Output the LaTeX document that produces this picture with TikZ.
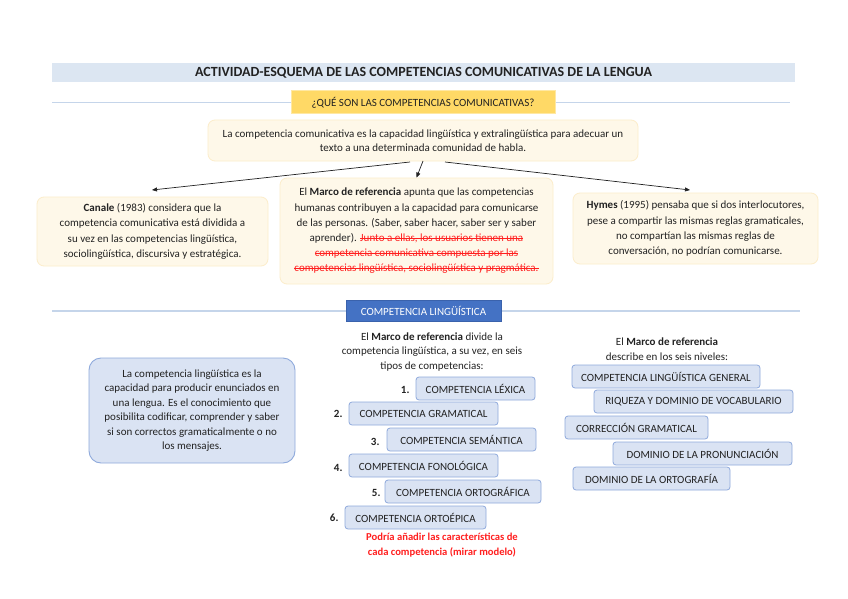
\documentclass[tikz,border=0pt]{standalone}
\usepackage{fontspec}
\setmainfont{Carlito}
\usetikzlibrary{arrows.meta}
\definecolor{titlebg}{HTML}{DCE6F2}
\definecolor{sepline}{HTML}{C5D5EA}
\definecolor{gold}{HTML}{FFD966}
\definecolor{goldedge}{HTML}{FFE8A3}
\definecolor{cream}{HTML}{FEF8E9}
\definecolor{creamedge}{HTML}{FCEDCB}
\definecolor{bluebox}{HTML}{4472C4}
\definecolor{blueedge}{HTML}{3A62AC}
\definecolor{lightblue}{HTML}{DAE3F3}
\definecolor{lightedge}{HTML}{8FAADC}
\definecolor{txt}{HTML}{222222}
\definecolor{redtxt}{HTML}{FF1F1F}
\newlength{\strkw}
\newcommand{\strk}[1]{\settowidth{\strkw}{#1}\textcolor{redtxt}{\rlap{#1}\rule[0.27em]{\strkw}{0.7pt}}}
\tikzset{
  base/.style={font=\fontsize{11}{14.5}\selectfont, text=txt, align=center, inner sep=0pt},
  creambox/.style={base, font=\fontsize{11}{15.2}\selectfont, draw=creamedge, fill=cream, rounded corners=7pt, line width=0.8pt},
  itembox/.style={font=\fontsize{11}{12}\selectfont, text=txt, draw=lightedge, fill=lightblue, rounded corners=3pt, line width=0.8pt, minimum height=23pt, inner sep=0pt},
  numlbl/.style={font=\bfseries\fontsize{11}{12}\selectfont, text=txt},
  arr/.style={-{Triangle[length=5pt,width=4pt]}, line width=0.7pt, draw=txt},
}
\begin{document}
\begin{tikzpicture}[x=1pt,y=-1pt]
\useasboundingbox (0,0) rectangle (848,599);
\fill[white] (0,0) rectangle (848,599);
% title
\node[fill=titlebg, minimum width=743pt, minimum height=19pt, inner sep=0pt, font=\bfseries\fontsize{14}{16}\selectfont, text=txt] (title) at (423.5,72.5) {ACTIVIDAD-ESQUEMA DE LAS COMPETENCIAS COMUNICATIVAS DE LA LENGUA};
% separator 1
\coordinate (s1a) at (52,102.5);
\coordinate (s1b) at (790,102.5);
\draw[sepline, line width=1.2pt] (s1a) -- (s1b);
\node[fill=gold, draw=goldedge, line width=1pt, minimum width=264pt, minimum height=23pt, inner sep=0pt, font=\fontsize{11}{12}\selectfont, text=txt] (q) at (423,102.5) {¿QUÉ SON LAS COMPETENCIAS COMUNICATIVAS?};
% definition
\node[creambox, font=\fontsize{11}{14}\selectfont, minimum width=430pt, minimum height=41pt] (def) at (423,140.5) {La competencia comunicativa es la capacidad lingüística y extralingüística para adecuar un\\ texto a una determinada comunidad de habla.};
% three boxes
\node[creambox, minimum width=231pt, minimum height=69pt] (canale) at (152.5,231.5) {\raisebox{-2.5pt}{\begin{tabular}{@{}c@{}}\textbf{Canale} (1983) considera que la\\ competencia comunicativa está dividida a\\ su vez en las competencias lingüística,\\ sociolingüística, discursiva y estratégica.\end{tabular}}};
\node[creambox, minimum width=273pt, minimum height=106pt] (marco) at (416.5,231) {El \textbf{Marco de referencia} apunta que las competencias\\ humanas contribuyen a la capacidad para comunicarse\\ de las personas. (Saber, saber hacer, saber ser y saber\\ aprender). \strk{Junto a ellas, los usuarios tienen una}\\ \strk{competencia comunicativa compuesta por las}\\ \strk{competencias lingüística, sociolingüística y pragmática.}};
\node[creambox, minimum width=245pt, minimum height=71pt] (hymes) at (695.5,228.5) {\textbf{Hymes} (1995) pensaba que si dos interlocutores,\\ pese a compartir las mismas reglas gramaticales,\\ no compartían las mismas reglas de\\ conversación, no podrían comunicarse.};
% arrows
\draw[arr] (423,161) -- (marco.north);
\draw[arr] (410,162) -- (152,190);
\draw[arr] (445,162) -- (690,190);
% separator 2
\coordinate (s2a) at (52,311);
\coordinate (s2b) at (800,311);
\draw[sepline, line width=1.2pt] (s2a) -- (s2b);
\node[fill=bluebox, draw=blueedge, line width=0.8pt, minimum width=155pt, minimum height=21pt, inner sep=0pt, font=\fontsize{11}{12}\selectfont, text=white] (cl) at (423.5,310.5) {COMPETENCIA LINGÜÍSTICA};
% middle intro
\node[base] (intro) at (432,352) {El \textbf{Marco de referencia} divide la\\ competencia lingüística, a su vez, en seis\\ tipos de competencias:};
% left box
\node[base, draw=lightedge, fill=lightblue, rounded corners=12pt, line width=0.9pt, minimum width=206pt, minimum height=105pt] (ldef) at (192,410.5) {La competencia lingüística es la\\ capacidad para producir enunciados en\\ una lengua. Es el conocimiento que\\ posibilita codificar, comprender y saber\\ si son correctos gramaticalmente o no\\ los mensajes.};
% list
\node[itembox, minimum width=119pt] (c1) at (475.5,388.5) {COMPETENCIA LÉXICA};
\node[numlbl, anchor=east] (n1) at (413,390) {1.};
\node[itembox, minimum width=149pt] (c2) at (423.5,413.5) {COMPETENCIA GRAMATICAL};
\node[numlbl, anchor=east] (n2) at (346,414) {2.};
\node[itembox, minimum width=149pt] (c3) at (461.5,439.5) {COMPETENCIA SEMÁNTICA};
\node[numlbl, anchor=east] (n3) at (383,442) {3.};
\node[itembox, minimum width=149pt] (c4) at (423.5,465.5) {COMPETENCIA FONOLÓGICA};
\node[numlbl, anchor=east] (n4) at (346,468) {4.};
\node[itembox, minimum width=156pt] (c5) at (463,491.5) {COMPETENCIA ORTOGRÁFICA};
\node[numlbl, anchor=east] (n5) at (384,493) {5.};
\node[itembox, minimum width=141pt] (c6) at (415.5,517.5) {COMPETENCIA ORTOÉPICA};
\node[numlbl, anchor=east] (n6) at (342,518) {6.};
\node[base, text=redtxt, font=\bfseries\fontsize{10.6}{14.5}\selectfont] (note) at (442,545) {Podría añadir las características de\\ cada competencia (mirar modelo)};
% right
\node[base] (rintro) at (667,349) {El \textbf{Marco de referencia}\\ describe en los seis niveles:};
\node[itembox, minimum width=188pt] (r1) at (666,376.5) {COMPETENCIA LINGÜÍSTICA GENERAL};
\node[itembox, minimum width=199pt] (r2) at (693.5,401.5) {RIQUEZA Y DOMINIO DE VOCABULARIO};
\node[itembox, minimum width=143pt] (r3) at (636.5,427.5) {CORRECCIÓN GRAMATICAL};
\node[itembox, minimum width=179pt] (r4) at (702.5,453.5) {DOMINIO DE LA PRONUNCIACIÓN};
\node[itembox, minimum width=157pt] (r5) at (651.5,478.5) {DOMINIO DE LA ORTOGRAFÍA};
\end{tikzpicture}
\end{document}
